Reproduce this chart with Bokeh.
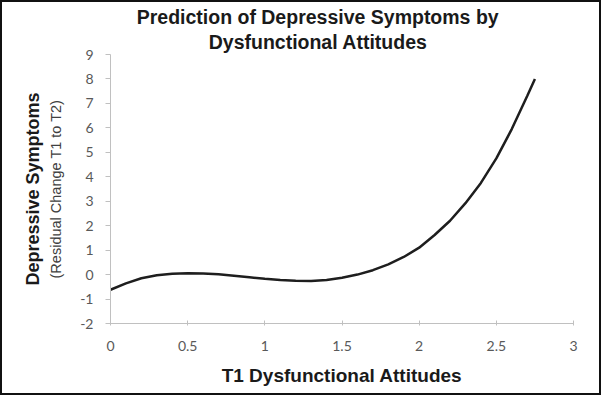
from bokeh.plotting import figure
from bokeh.models import Title, FixedTicker, LinearAxis
from bokeh.embed import file_html
from bokeh.resources import INLINE

# Data
x_vals = [0.0, 0.1, 0.2, 0.3, 0.4, 0.5, 0.6, 0.7, 0.8, 0.9, 1.0, 1.1, 1.2, 1.3, 1.4,
          1.5, 1.6, 1.7, 1.8, 1.9, 2.0, 2.1, 2.2, 2.3, 2.4, 2.5, 2.6, 2.7, 2.75]
y_vals = [-0.62, -0.36, -0.15, -0.03, 0.03, 0.05, 0.04, 0.01, -0.05, -0.11, -0.17, -0.22, -0.25, -0.26, -0.22,
          -0.13, 0.0, 0.18, 0.42, 0.72, 1.1, 1.62, 2.2, 2.92, 3.75, 4.75, 5.95, 7.3, 8.0]
x_ticks = [0, 0.5, 1, 1.5, 2, 2.5, 3]
y_ticks = list(range(-2, 10))
y_tick_labels = [str(t) for t in y_ticks]

title_lines = ["Prediction of Depressive Symptoms by", "Dysfunctional Attitudes"]
x_title = "T1 Dysfunctional Attitudes"
y_title = "Depressive Symptoms"
y_subtitle = "(Residual Change T1 to T2)"

p = figure(width=601, height=395, x_range=(0, 3), y_range=(-2, 9),
           output_backend="svg", toolbar_location=None,
           min_border_left=108, min_border_right=30, min_border_top=52, min_border_bottom=74)
p.styles = {"border": "2px solid #111111", "overflow": "hidden"}
p.outline_line_color = None
p.xgrid.visible = False
p.ygrid.visible = False
p.background_fill_color = "white"
p.border_fill_color = "white"

p.line(x_vals, y_vals, line_color="#1e1e1e", line_width=2.5)

axis_col = "#c0c0c0"
lab_col = "#595959"
for ax in (p.xaxis[0], p.yaxis[0]):
    ax.axis_line_color = axis_col
    ax.major_tick_line_color = axis_col
    ax.minor_tick_line_color = None
    ax.major_label_text_font = "Lato"
    ax.major_label_text_font_size = "14px"
    ax.major_label_text_color = lab_col

p.xaxis.ticker = FixedTicker(ticks=x_ticks)
p.xaxis.major_label_overrides = {t: ("%g" % t) for t in x_ticks}
p.xaxis.major_tick_in = 3
p.xaxis.major_tick_out = 2
p.xaxis.major_label_standoff = 15
p.xaxis.axis_label = x_title
p.xaxis.axis_label_text_font = "Liberation Sans"
p.xaxis.axis_label_text_font_style = "bold"
p.xaxis.axis_label_text_font_size = "19px"
p.xaxis.axis_label_text_color = "#1a1a1a"
p.xaxis.axis_label_standoff = 11

p.yaxis.ticker = FixedTicker(ticks=y_ticks)
p.yaxis.major_label_overrides = dict(zip(y_ticks, y_tick_labels))
p.yaxis.major_tick_in = 0
p.yaxis.major_tick_out = 5
p.yaxis.major_label_standoff = 12
p.yaxis.axis_label = y_subtitle
p.yaxis.axis_label_text_font = "Liberation Sans"
p.yaxis.axis_label_text_font_style = "normal"
p.yaxis.axis_label_text_font_size = "14.5px"
p.yaxis.axis_label_text_color = "#404040"
p.yaxis.axis_label_standoff = 13

outer = LinearAxis(ticker=FixedTicker(ticks=[]), axis_label=y_title,
                   axis_line_color=None, major_tick_line_color=None, minor_tick_line_color=None,
                   major_tick_in=0, major_tick_out=0, major_label_standoff=0,
                   axis_label_standoff=3, axis_label_text_font="Liberation Sans",
                   axis_label_text_font_style="bold", axis_label_text_font_size="18px",
                   axis_label_text_color="#1a1a1a")
p.add_layout(outer, "left")

# Two-line title (nearest line first)
p.add_layout(Title(text=title_lines[1], align="left", offset=98.2, standoff=3,
                   text_font="Liberation Sans", text_font_style="bold", text_font_size="19.5px",
                   text_color="#1a1a1a"), "above")
p.add_layout(Title(text=title_lines[0], align="left", offset=26.2, standoff=0,
                   text_font="Liberation Sans", text_font_style="bold", text_font_size="19.5px",
                   text_color="#1a1a1a"), "above")

open("out.html", "w").write(file_html(p, INLINE))
